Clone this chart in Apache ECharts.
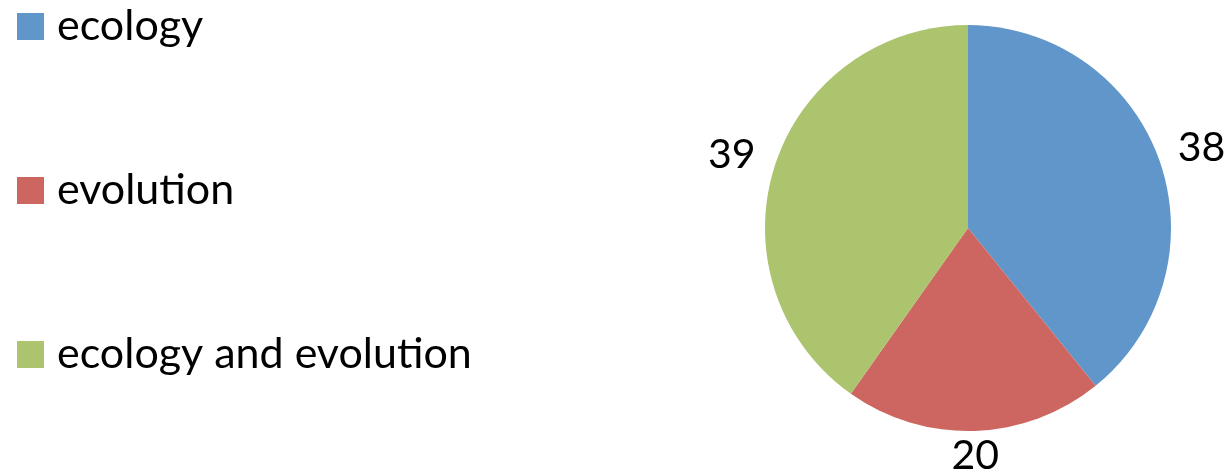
<!DOCTYPE html>
<html>
<head>
<meta charset="utf-8">
<script src="https://cdn.jsdelivr.net/npm/echarts@6/dist/echarts.min.js"></script>
<style>
html,body{margin:0;padding:0;background:#fff;}
#chart{width:1230px;height:473px;}
</style>
</head>
<body>
<div id="chart"></div>
<script>
const categories = ['ecology', 'evolution', 'ecology and evolution'];
const values = [38, 20, 39];
const colors = ['#6096CA', '#CD6660', '#ABC46D'];

const chart = echarts.init(document.getElementById('chart'));
const CX = 968, CY = 228, R = 203;
const total = values.reduce((a, b) => a + b, 0);

function midAngle(i) {
  let before = 0;
  for (let k = 0; k < i; k++) before += values[k];
  return (before + values[i] / 2) / total * 2 * Math.PI;
}

chart.setOption({
  animation: false,
  color: colors,
  legend: {
    orient: 'vertical',
    left: 12,
    top: 0,
    itemWidth: 27,
    itemHeight: 27,
    itemGap: 121,
    icon: 'rect',
    textStyle: { fontFamily: 'Lato', fontSize: 43, color: '#000', padding: [0, 0, 0, 8] },
    data: categories
  },
  series: [{
    type: 'pie',
    center: [CX, CY],
    radius: R,
    startAngle: 90,
    clockwise: true,
    label: {
      show: true,
      position: 'inside',
      formatter: '{c}',
      fontFamily: 'Lato',
      fontSize: 41,
      color: '#000'
    },
    labelLine: { show: false },
    labelLayout: function (p) {
      const a = midAngle(p.dataIndex);
      const d = R + 22 + 24 * Math.abs(Math.sin(a));
      return {
        x: CX + d * Math.sin(a),
        y: CY - d * Math.cos(a) + 2,
        align: 'center',
        verticalAlign: 'middle'
      };
    },
    itemStyle: { borderColor: '#fff', borderWidth: 0 },
    emphasis: { disabled: true },
    data: categories.map((c, i) => ({ name: c, value: values[i] }))
  }]
});
</script>
</body>
</html>
